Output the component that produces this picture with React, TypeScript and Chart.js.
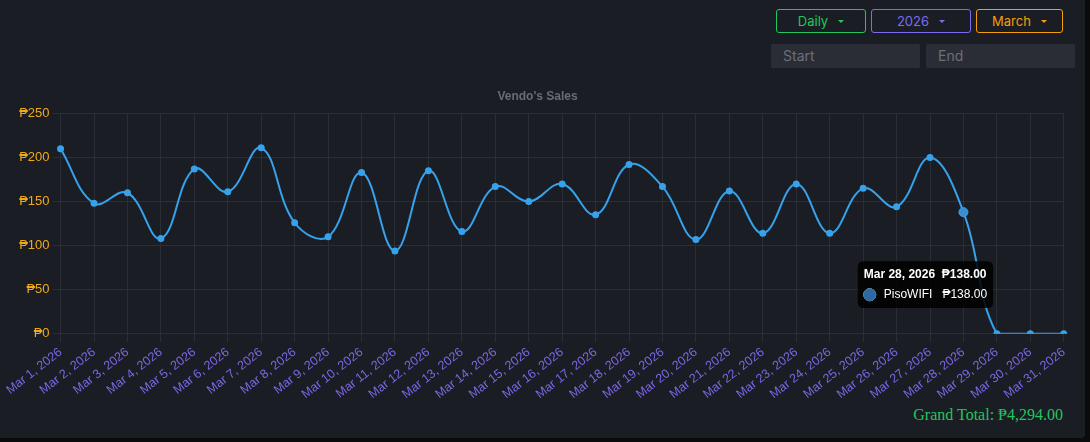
import React, { useEffect, useRef } from "react";
import { Chart, registerables, Tooltip } from "chart.js";

Chart.register(...registerables);

const categories: string[] = [
  "Mar 1, 2026", "Mar 2, 2026", "Mar 3, 2026", "Mar 4, 2026", "Mar 5, 2026", "Mar 6, 2026",
  "Mar 7, 2026", "Mar 8, 2026", "Mar 9, 2026", "Mar 10, 2026", "Mar 11, 2026", "Mar 12, 2026",
  "Mar 13, 2026", "Mar 14, 2026", "Mar 15, 2026", "Mar 16, 2026", "Mar 17, 2026", "Mar 18, 2026",
  "Mar 19, 2026", "Mar 20, 2026", "Mar 21, 2026", "Mar 22, 2026", "Mar 23, 2026", "Mar 24, 2026",
  "Mar 25, 2026", "Mar 26, 2026", "Mar 27, 2026", "Mar 28, 2026", "Mar 29, 2026", "Mar 30, 2026",
  "Mar 31, 2026",
];

const pisoWifiSales: number[] = [
  210, 148, 160, 108, 187, 161, 211, 126, 110, 183, 94, 185, 116, 167, 150, 170,
  135, 192, 167, 107, 162, 114, 170, 114, 165, 144, 200, 138, 0, 0, 0,
];

const yTicks: number[] = [0, 50, 100, 150, 200, 250];
const seriesLabel = "PisoWIFI";
const chartTitle = "Vendo's Sales";
const activeIndex = 27;

const peso = (v: number) => "\u20B1" + v.toFixed(2).replace(/\B(?=(\d{3})+(?!\d))/g, ",");
const grandTotal = pisoWifiSales.reduce((a, b) => a + b, 0);

(Tooltip.positioners as any).offsetBelow = function (items: any[]) {
  if (!items.length) return false;
  const el = items[0].element;
  return { x: el.x - 38, y: el.y + 47, xAlign: "center", yAlign: "top" };
};

const btn = (color: string, text: string, left: number, width: number) => (
  <div
    style={{
      position: "absolute",
      left,
      top: 9,
      width,
      height: 24,
      boxSizing: "border-box",
      border: `1px solid ${color}`,
      borderRadius: 3,
      color,
      fontFamily: "Inter, 'Noto Sans', sans-serif",
      fontSize: 13,
      display: "flex",
      alignItems: "center",
      justifyContent: "center",
      gap: 10,
    }}
  >
    <span>{text}</span>
    <span
      style={{
        width: 0,
        height: 0,
        borderLeft: "3.5px solid transparent",
        borderRight: "3.5px solid transparent",
        borderTop: `3.5px solid ${color}`,
      }}
    />
  </div>
);

const input = (text: string, left: number) => (
  <div
    style={{
      position: "absolute",
      left,
      top: 44,
      width: 149,
      height: 24,
      background: "#2a2d36",
      borderRadius: 2,
      color: "#6b7079",
      fontFamily: "Inter, 'Noto Sans', sans-serif",
      fontSize: 14,
      lineHeight: "24px",
      paddingLeft: 12,
      boxSizing: "border-box",
    }}
  >
    {text}
  </div>
);

export default function App() {
  const canvasRef = useRef<HTMLCanvasElement | null>(null);

  useEffect(() => {
    document.body.style.margin = "0";
    document.body.style.background = "#0b0b0c";
    const ctx = canvasRef.current!.getContext("2d")!;
    const chart = new Chart(ctx, {
      type: "line",
      data: {
        labels: categories,
        datasets: [
          {
            label: seriesLabel,
            data: pisoWifiSales,
            borderColor: "#36a2eb",
            backgroundColor: "rgba(54,162,235,0.5)",
            pointBackgroundColor: "#36a2eb",
            pointBorderColor: "#36a2eb",
            pointRadius: 2.5,
            pointHoverRadius: 4.5,
            pointHoverBackgroundColor: "#3a8fd0",
            pointHoverBorderColor: "#36a2eb",
            borderWidth: 2,
            tension: 0.4,
            fill: false,
          },
        ],
      },
      options: {
        animation: false,
        responsive: true,
        maintainAspectRatio: false,
        interaction: { mode: "index", intersect: false },
        layout: { padding: { left: 0, right: 6 } },
        plugins: {
          legend: { display: false },
          title: {
            display: true,
            text: chartTitle,
            color: "#686c75",
            font: { size: 12, weight: "bold" },
          },
          tooltip: {
            position: "offsetBelow" as any,
            backgroundColor: "rgba(0,0,0,0.85)",
            caretSize: 0,
            usePointStyle: true,
            boxPadding: 6,
            titleColor: "#ffffff",
            bodyColor: "#ffffff",
            callbacks: {
              title: (items: any[]) =>
                items.length ? `${items[0].label}  ${peso(items[0].parsed.y)}` : "",
              label: (item: any) => `${item.dataset.label}   ${peso(item.parsed.y)}`,
              labelColor: () => ({
                borderColor: "#2a6aa0",
                backgroundColor: "#2a6aa0",
              }),
            },
          },
        },
        scales: {
          x: {
            grid: { color: "#2a2e37" },
            border: { color: "#2a2e37" },
            ticks: {
              color: "#7b68e8",
              font: { size: 12.5 },
              autoSkip: false,
              maxRotation: 38,
              minRotation: 38,
            },
          },
          y: {
            min: 0,
            max: 250,
            afterBuildTicks: (axis: any) => {
              axis.ticks = yTicks.map((v) => ({ value: v }));
            },
            grid: { color: "#2a2e37" },
            border: { color: "#2a2e37" },
            ticks: {
              color: "#eeaa1a",
              font: { size: 13 },
              callback: (v: any) => "\u20B1" + v,
            },
          },
        },
      },
    });
    const meta = chart.getDatasetMeta(0);
    const el = meta.data[activeIndex];
    chart.setActiveElements([{ datasetIndex: 0, index: activeIndex }]);
    chart.tooltip!.setActiveElements([{ datasetIndex: 0, index: activeIndex }], {
      x: el.x,
      y: el.y,
    });
    chart.update();
    return () => chart.destroy();
  }, []);

  return (
    <div
      style={{
        position: "relative",
        width: 1085,
        height: 438,
        background: "#1b1d24",
        borderRadius: "0 0 4px 0",
        overflow: "hidden",
      }}
    >
      {btn("#22c55e", "Daily", 776, 90)}
      {btn("#7c6cf0", "2026", 871, 100)}
      {btn("#f59e0b", "March", 976, 87)}
      {input("Start", 771)}
      {input("End", 926)}
      <div style={{ position: "absolute", left: 5, top: 79, width: 1071, height: 326 }}>
        <canvas ref={canvasRef} />
      </div>
      <div
        style={{
          position: "absolute",
          right: 22,
          top: 406,
          color: "#22c55e",
          fontFamily: "'Liberation Serif', 'Times New Roman', serif",
          fontSize: 16,
        }}
      >
        Grand Total: {peso(grandTotal)}
      </div>
    </div>
  );
}
